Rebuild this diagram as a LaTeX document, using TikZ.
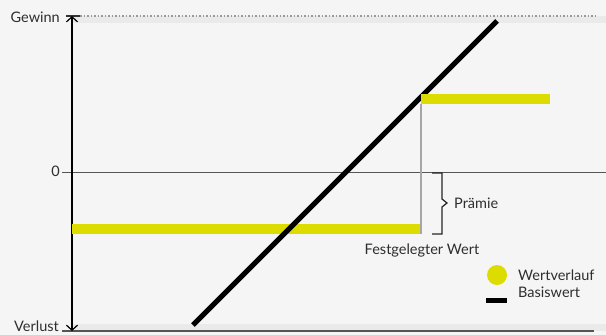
\documentclass[tikz,border=0pt]{standalone}
\usepackage{fontspec}
\setmainfont{Lato}
\usetikzlibrary{arrows.meta}
\definecolor{bggrey}{HTML}{F5F5F5}
\definecolor{bandgrey}{HTML}{EAEAEA}
\definecolor{lime}{HTML}{DCDC00}
\definecolor{axisgrey}{HTML}{555555}
\begin{document}
\begin{tikzpicture}[x=1pt, y=-1pt,
		every node/.style={font=\fontsize{14.5}{16}\selectfont, text=black!82, inner sep=0pt},
		bar/.style={fill=lime},
		tip/.style={-{Straight Barb[length=5pt,width=11pt]}, line width=1.2pt}]
		\fill [bggrey] (0,0) rectangle (606,335);
		\useasboundingbox (0,0) rectangle (606,335);
		% top and bottom limits
		\fill [bandgrey] (72,16) rectangle (606,23);
		\fill [bandgrey] (72,324) rectangle (606,331);
		\draw [black!40, dotted, line width=1.5pt] (80,16) -- (596,16);
		\draw [black!80, line width=1.2pt] (66,16) -- (80,16);
		\draw [axisgrey, line width=1.5pt] (62,331) -- (594,331);
		% axes
		\draw [axisgrey, line width=1pt] (62,172) -- (606,172);
		\draw [tip] (72,172) -- (72,16);
		\draw [tip] (72,172) -- (72,331);
		\node [anchor=east] (gewinn) at (60,17) {Gewinn};
		\node [anchor=east] (null) at (60,171) {0};
		\node [anchor=east] (verlust) at (59,326) {Verlust};
		% value curve
		\fill [bar] (72,224) rectangle (421,234);
		\draw [black!35, line width=1.5pt] (421,104) -- (421,234);
		\draw [line width=5pt] (193,325) -- (497,21);
		\fill [bar] (421,94) rectangle (550,104);
		% premium
		\draw [black!85, line width=1.2pt] (432,173) -- (442,173) -- (442,199) -- (447,203)
			-- (442,207) -- (442,234) -- (432,234);
		\node [anchor=west] (praemie) at (454,203) {Prämie};
		\node (wert) at (422,250) {Festgelegter Wert};
		% legend
		\fill [lime] (497,275) circle (10);
		\fill (486,298) rectangle (507,303);
		\node [anchor=west] (wertverlauf) at (518,275) {Wertverlauf};
		\node [anchor=west] (basiswert) at (518,292) {Basiswert};
	\end{tikzpicture}
\end{document}
